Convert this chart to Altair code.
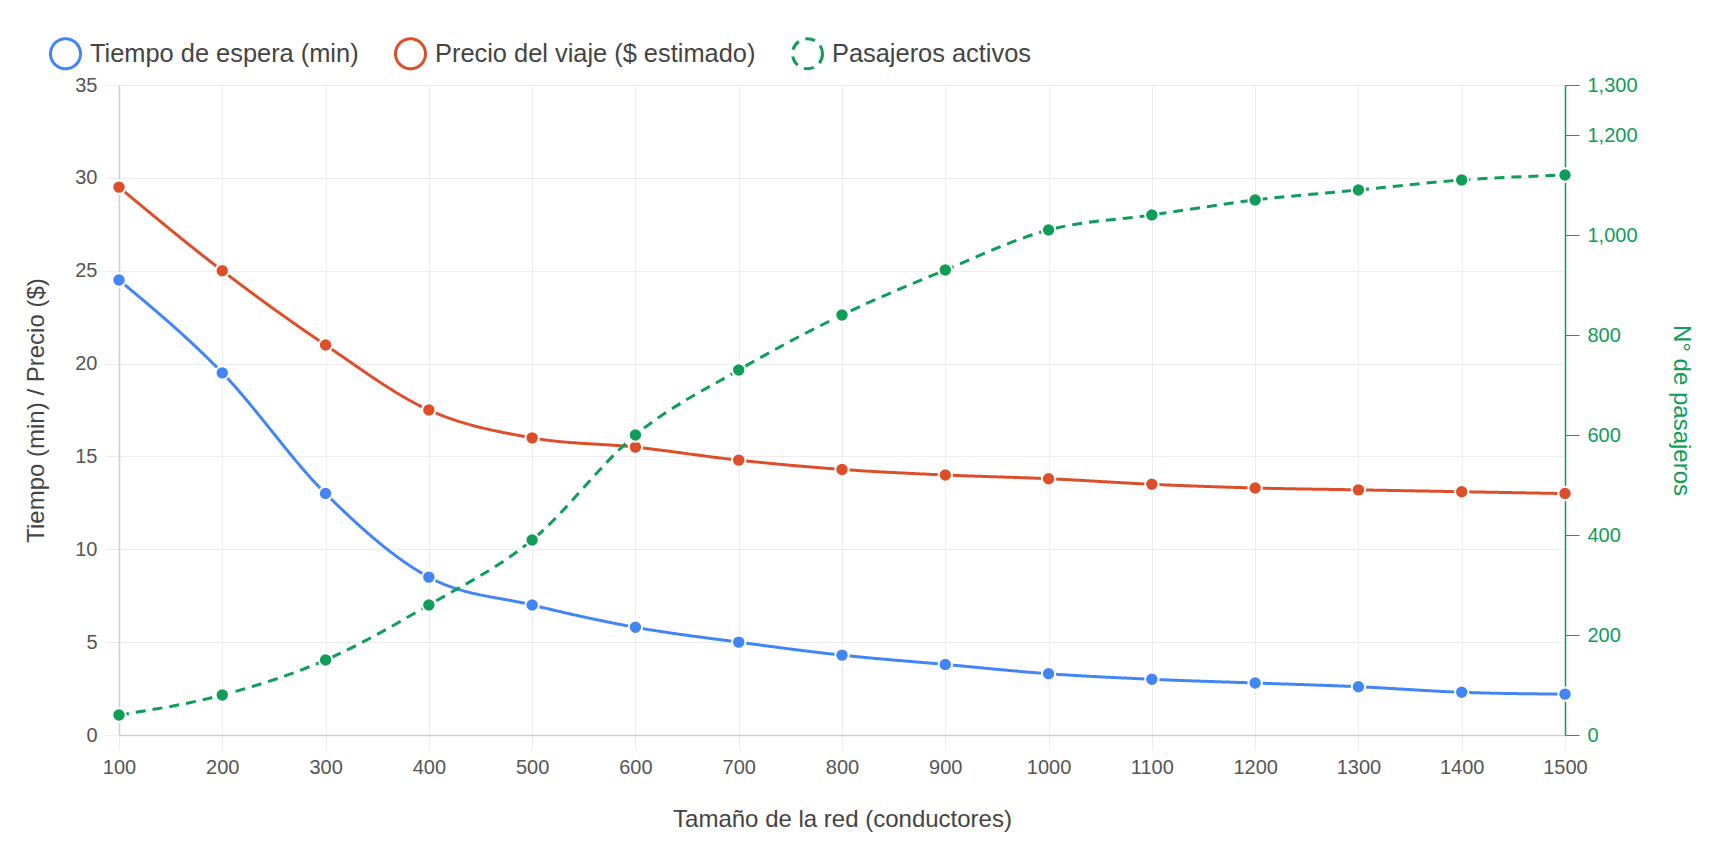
import altair as alt
import pandas as pd

# ---- data ----
conductores = [100, 200, 300, 400, 500, 600, 700, 800, 900, 1000, 1100, 1200, 1300, 1400, 1500]
tiempo = [24.5, 19.5, 13.0, 8.5, 7.0, 5.8, 5.0, 4.3, 3.8, 3.3, 3.0, 2.8, 2.6, 2.3, 2.2]
precio = [29.5, 25.0, 21.0, 17.5, 16.0, 15.5, 14.8, 14.3, 14.0, 13.8, 13.5, 13.3, 13.2, 13.1, 13.0]
pasajeros = [40, 80, 150, 260, 390, 600, 730, 840, 930, 1010, 1040, 1070, 1090, 1110, 1120]

series = ["Tiempo de espera (min)", "Precio del viaje ($ estimado)", "Pasajeros activos"]
colores = ["#4285F4", "#DD4F2A", "#0F9D58"]
dashes = [[1, 0], [1, 0], [10, 7]]

x_ticks = list(range(100, 1501, 100))
y_left_ticks = [0, 5, 10, 15, 20, 25, 30, 35]
y_right_ticks = [0, 200, 400, 600, 800, 1000, 1200, 1300]

n = len(conductores)
df_left = pd.DataFrame(
    {"conductores": conductores * 2,
     "serie": [series[0]] * n + [series[1]] * n,
     "valor": tiempo + precio,
     "hex": [colores[0]] * n + [colores[1]] * n}
)
df_right = pd.DataFrame(
    {"conductores": conductores,
     "serie": [series[2]] * n,
     "valor": pasajeros,
     "hex": [colores[2]] * n}
)

FONT = "Liberation Sans"
GREEN = "#0F9D58"

legend = alt.Legend(
    title=None, orient="none", legendX=-70, legendY=-48, direction="horizontal",
    symbolType="circle", symbolSize=900, symbolStrokeWidth=3, symbolFillColor="white",
    labelFontSize=25.4, labelFont=FONT, labelColor="#444", labelOffset=8,
    labelLimit=600, columnPadding=30, padding=0,
)
color_scale = alt.Scale(domain=series, range=colores)
dash_scale = alt.Scale(domain=series, range=dashes)

x_enc = alt.X(
    "conductores:Q",
    scale=alt.Scale(domain=[100, 1500], nice=False),
    axis=alt.Axis(values=x_ticks, format="d", title="Tamaño de la red (conductores)",
                  grid=True, gridColor="#ededed", tickColor="#ededed", tickSize=14,
                  labelPadding=8, labelFlush=False, labelOverlap=False,
                  domainColor="#cfcfcf", domainWidth=1.5, titlePadding=30),
)

y_left = alt.Y(
    "valor:Q",
    scale=alt.Scale(domain=[0, 35], nice=False),
    axis=alt.Axis(values=y_left_ticks, title="Tiempo (min) / Precio ($)", grid=True,
                  gridColor="#ededed", tickColor="#ededed", tickSize=14, labelPadding=8,
                  labelFlush=False,
                  domainColor="#cfcfcf", domainWidth=1.5, titlePadding=26),
)
y_right = alt.Y(
    "valor:Q",
    scale=alt.Scale(domain=[0, 1300], nice=False),
    axis=alt.Axis(values=y_right_ticks, format=",d", title="N° de pasajeros", orient="right",
                  grid=False, tickColor=GREEN, tickSize=14, labelPadding=8, labelFlush=False,
                  domainColor=GREEN, domainWidth=1.5, labelColor=GREEN, titleColor=GREEN,
                  titlePadding=31),
)

color_enc = alt.Color("serie:N", scale=color_scale, legend=legend)
dash_enc = alt.StrokeDash("serie:N", scale=dash_scale, legend=legend)
fill_enc = alt.Fill("hex:N", scale=None)

left_lines = alt.Chart(df_left).mark_line(interpolate="monotone", strokeWidth=3).encode(
    x=x_enc, y=y_left, color=color_enc, strokeDash=dash_enc
)
left_points = alt.Chart(df_left).mark_circle(size=180, opacity=1, stroke="white", strokeWidth=2).encode(
    x=x_enc, y=y_left, fill=fill_enc
)
right_line = alt.Chart(df_right).mark_line(interpolate="monotone", strokeWidth=3).encode(
    x=x_enc, y=y_right, color=color_enc, strokeDash=dash_enc
)
right_points = alt.Chart(df_right).mark_circle(size=180, opacity=1, stroke="white", strokeWidth=2).encode(
    x=x_enc, y=y_right, fill=fill_enc
)

left = alt.layer(left_lines, left_points)
right = alt.layer(right_line, right_points)

chart = (
    alt.layer(left, right)
    .resolve_scale(y="independent")
    .properties(
        width=1446, height=650,
        padding={"left": 119, "top": 85, "right": 149, "bottom": 127},
        autosize=alt.AutoSizeParams(type="none"),
        background="white",
    )
    .configure_view(stroke=None)
    .configure_axis(
        labelFont=FONT, labelFontSize=20, labelColor="#555",
        titleFont=FONT, titleFontSize=24, titleFontWeight="normal", titleColor="#444",
    )
)

chart.save("out.html", embed_options={"renderer": "svg", "actions": False})
